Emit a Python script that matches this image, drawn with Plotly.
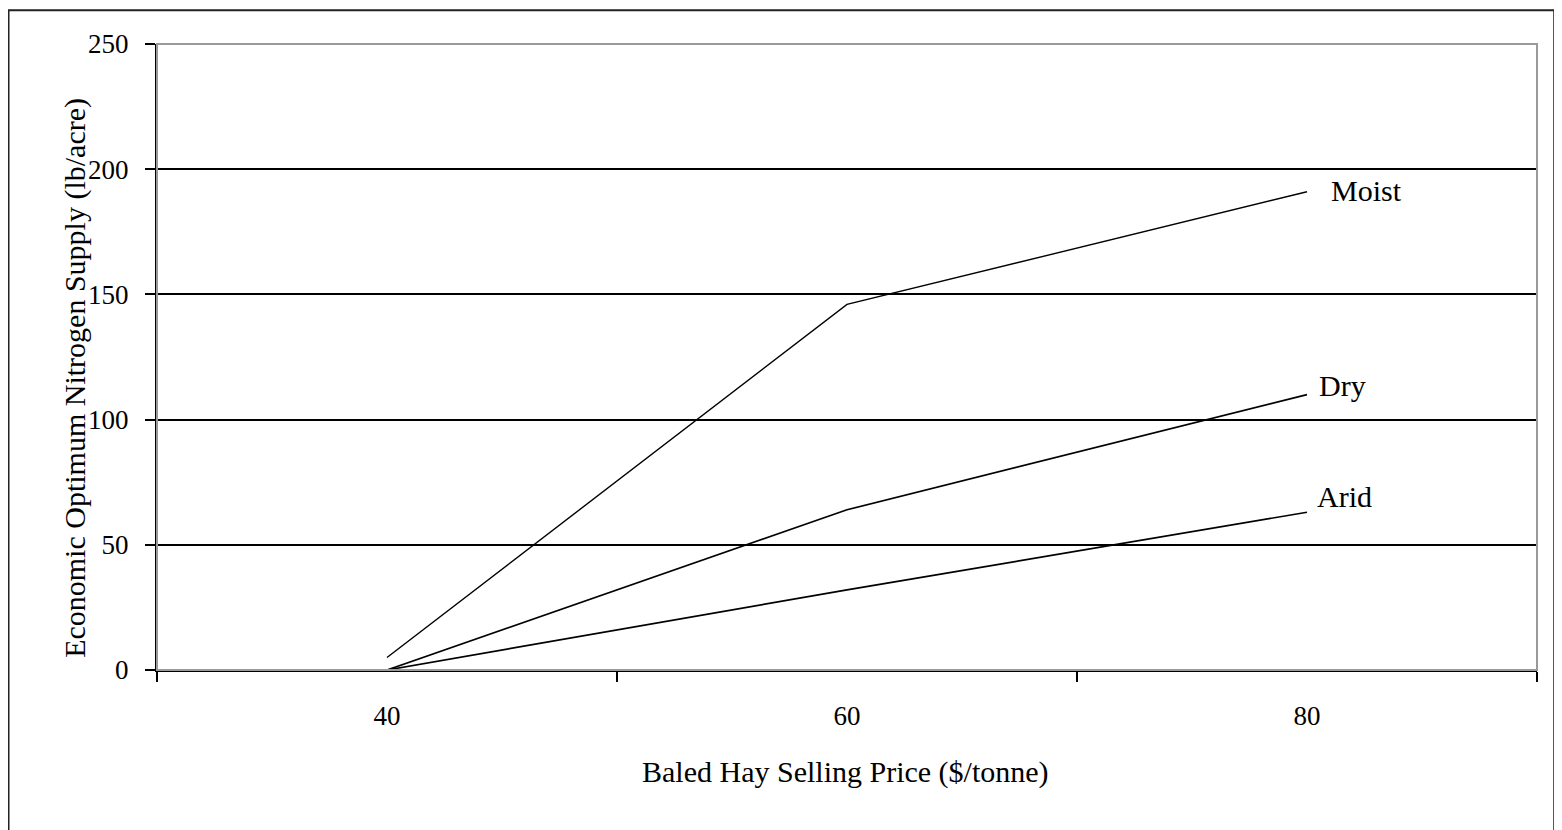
import plotly.graph_objects as go

# Data
price = [40, 60, 80]
moist = [5, 146, 191]
dry = [0, 64, 110]
arid = [0, 32, 63]
series_names = ["Moist", "Dry", "Arid"]
x_tick_labels = ["40", "60", "80"]
x_tick_marks = [30, 50, 70, 90]
y_ticks = [0, 50, 100, 150, 200, 250]

FONT = "Liberation Serif, Times New Roman, serif"

fig = go.Figure()
series = [moist, dry, arid]
widths = [1.4, 1.7, 1.7]
for name, vals, w in zip(series_names, series, widths):
    fig.add_trace(go.Scatter(x=price, y=vals, mode="lines", name=name,
                             line=dict(color="black", width=w),
                             showlegend=False, hoverinfo="x+y+name"))

# Data labels at the last point of each series
label_shift = {"Moist": (22, 1), "Dry": (10, 9), "Arid": (8, 16)}
for name, vals in zip(series_names, series):
    dx, dy = label_shift[name]
    fig.add_annotation(x=price[-1], y=vals[-1], text=name, showarrow=False,
                       xanchor="left", yanchor="middle", xshift=dx, yshift=dy,
                       font=dict(family=FONT, size=30, color="black"))

# Axis titles
fig.add_annotation(xref="paper", yref="paper", x=0.4986, y=-0.163,
                   text="Baled Hay Selling Price ($/tonne)", showarrow=False,
                   xanchor="center", yanchor="middle",
                   font=dict(family=FONT, size=30, color="black"))
fig.add_annotation(xref="paper", yref="paper", x=-0.0595, y=0.4665,
                   text="Economic Optimum Nitrogen Supply (lb/acre)", showarrow=False,
                   textangle=-90, xanchor="center", yanchor="middle",
                   font=dict(family=FONT, size=30, color="black"))

# Plot-area border (grey top/right) and outer chart border
fig.add_shape(type="rect", xref="paper", yref="paper", x0=0, x1=1, y0=0, y1=1,
              line=dict(color="#9a9a9a", width=2), layer="above")
fig.add_shape(type="rect", xref="paper", yref="paper", x0=-0.1076, x1=1.0125,
              y0=-0.3, y1=1.054, line=dict(color="#222222", width=2), layer="above")

fig.update_xaxes(range=[30, 90], tickmode="array", tickvals=price, ticktext=x_tick_labels,
                 ticks="", showgrid=False, zeroline=False,
                 showline=True, linecolor="black", linewidth=2,
                 tickfont=dict(family=FONT, size=27, color="black"),
                 ticklabelstandoff=21,
                 minor=dict(tickmode="array", tickvals=x_tick_marks, ticks="outside",
                            ticklen=10, tickwidth=2, tickcolor="black", showgrid=False))
fig.update_yaxes(range=[0, 250], tickmode="array", tickvals=y_ticks,
                 ticks="outside", ticklen=10, tickwidth=2, tickcolor="black",
                 showgrid=True, gridcolor="black", gridwidth=1.5, zeroline=False,
                 showline=True, linecolor="black", linewidth=2,
                 tickfont=dict(family=FONT, size=27, color="black"),
                 ticklabelstandoff=11)

# The page places the figure 8px from the top-left corner of the window
fig.update_layout(width=1554, height=822,
                  margin=dict(l=149, r=25, t=36, b=160),
                  paper_bgcolor="white", plot_bgcolor="white",
                  font=dict(family=FONT, color="black"))

fig.write_html("out.html")
